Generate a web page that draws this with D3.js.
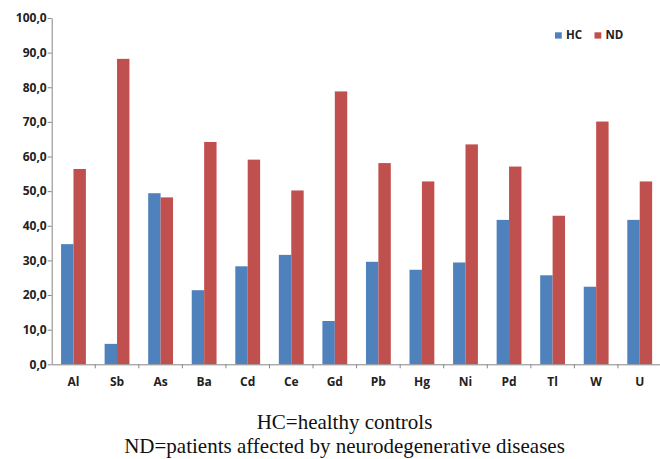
<!DOCTYPE html>
<html>
<head>
<meta charset="utf-8">
<script src="https://cdn.jsdelivr.net/npm/d3@7"></script>
<style>
  html, body { margin: 0; padding: 0; background: #fff; }
  svg { display: block; }
  .caption { font-family: "Liberation Serif", Tinos, "Times New Roman", "DejaVu Serif", serif; }
  .lbl { font-family: "Open Sans", "DejaVu Sans", sans-serif; font-weight: bold; }
</style>
</head>
<body>
<svg id="chart" width="660" height="459"></svg>
<script>
const categories = ["Al","Sb","As","Ba","Cd","Ce","Gd","Pb","Hg","Ni","Pd","Tl","W","U"];
const seriesNames = ["HC","ND"];
const hcValues = [34.7, 5.9, 49.4, 21.4, 28.3, 31.6, 12.5, 29.6, 27.3, 29.4, 41.7, 25.7, 22.4, 41.7];
const ndValues = [56.4, 88.2, 48.2, 64.2, 59.1, 50.2, 78.8, 58.1, 52.8, 63.5, 57.1, 42.9, 70.1, 52.8];
const yTicks = [0, 10, 20, 30, 40, 50, 60, 70, 80, 90, 100];
const captionLines = ["HC=healthy controls", "ND=patients affected by neurodegenerative diseases"];

const colors = { HC: "#4F81BD", ND: "#C0504D" };
const seriesValues = { HC: hcValues, ND: ndValues };

const svg = d3.select("#chart");
const mLeft = 51.7, mRight = 661.5, mTop = 18, mBottom = 364.3;

const x = d3.scaleBand().domain(categories).range([mLeft, mRight]).padding(0);
const bw = x.bandwidth();
const x1 = d3.scaleBand().domain(seriesNames).range([bw * 0.215, bw * 0.785]).padding(0);
const y = d3.scaleLinear().domain([0, 100]).range([mBottom, mTop]);

const locale = d3.formatLocale({ decimal: ",", thousands: ".", grouping: [3], currency: ["", ""] });
const fmt = locale.format(".1f");

// bars
const groups = svg.append("g").selectAll("g")
  .data(categories)
  .join("g")
  .attr("transform", d => `translate(${x(d)},0)`);

groups.selectAll("rect")
  .data((d, i) => seriesNames.map(s => ({ s, v: seriesValues[s][i] })))
  .join("rect")
  .attr("x", d => x1(d.s))
  .attr("width", x1.bandwidth())
  .attr("y", d => y(d.v))
  .attr("height", d => y(0) - y(d.v))
  .attr("fill", d => colors[d.s]);

// y axis
const yAxis = svg.append("g")
  .attr("transform", `translate(${mLeft},0)`)
  .call(d3.axisLeft(y).tickValues(yTicks).tickFormat(fmt).tickSize(4).tickSizeOuter(0).tickPadding(1));
yAxis.select(".domain").attr("stroke", "#868686");
yAxis.selectAll(".tick line").attr("stroke", "#868686");
yAxis.selectAll("text")
  .attr("class", "lbl")
  .attr("font-family", null)
  .attr("font-size", "12px")
  .attr("fill", "#222");

// x axis
const xAxis = svg.append("g")
  .attr("transform", `translate(0,${mBottom})`)
  .call(d3.axisBottom(x).tickSize(0).tickPadding(13.4).tickSizeOuter(0));
xAxis.select(".domain").attr("stroke", "#868686");
xAxis.selectAll("text")
  .attr("class", "lbl")
  .attr("font-family", null)
  .attr("font-size", "12px")
  .attr("fill", "#222");

// category boundary ticks
svg.append("g").selectAll("line")
  .data(categories.slice(1))
  .join("line")
  .attr("x1", d => x(d)).attr("x2", d => x(d))
  .attr("y1", mBottom).attr("y2", mBottom + 4)
  .attr("stroke", "#868686");

// legend
const legendPos = { HC: 555, ND: 594.5 };
const legend = svg.append("g");
seriesNames.forEach(s => {
  legend.append("rect")
    .attr("x", legendPos[s]).attr("y", 32.3)
    .attr("width", 6.8).attr("height", 6.3)
    .attr("fill", colors[s]);
  legend.append("text")
    .attr("class", "lbl")
    .attr("x", legendPos[s] + 11).attr("y", 39.3)
    .attr("font-size", "11.5px")
    .attr("fill", "#222")
    .text(s);
});

// caption
const capY = [428.5, 453.3];
svg.append("g").selectAll("text")
  .data(captionLines)
  .join("text")
  .attr("class", "caption")
  .attr("x", 344.5)
  .attr("y", (d, i) => capY[i])
  .attr("text-anchor", "middle")
  .attr("font-size", "21px")
  .attr("fill", "#111")
  .text(d => d);
</script>
</body>
</html>
